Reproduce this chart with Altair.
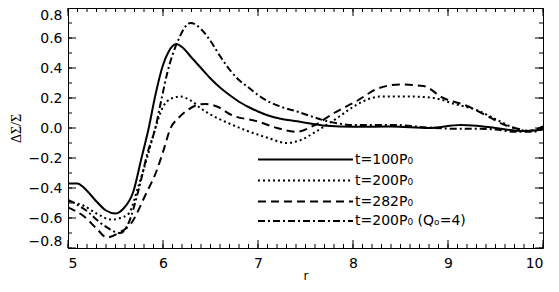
import altair as alt
import pandas as pd

# ---- data ----
r_100 = [5.0, 5.1, 5.17, 5.3, 5.4, 5.5, 5.58, 5.69, 5.77, 5.85, 5.92, 6.0, 6.06, 6.14, 6.2, 6.3, 6.4, 6.5, 6.6, 6.7, 6.8, 6.9, 7.0, 7.1, 7.25, 7.41, 7.72, 8.0, 8.4, 8.8, 9.13, 9.3, 9.5, 9.8, 10.0]
v_100 = [-0.37, -0.37, -0.40, -0.49, -0.55, -0.57, -0.54, -0.42, -0.21, 0.0, 0.22, 0.42, 0.51, 0.56, 0.54, 0.47, 0.40, 0.33, 0.27, 0.22, 0.175, 0.14, 0.11, 0.085, 0.06, 0.045, 0.015, 0.008, 0.01, 0.0, 0.02, 0.015, 0.0, -0.02, -0.01]

r_200 = [5.0, 5.17, 5.3, 5.46, 5.55, 5.64, 5.74, 5.85, 5.92, 6.0, 6.1, 6.18, 6.3, 6.4, 6.5, 6.68, 6.89, 7.1, 7.3, 7.45, 7.62, 7.83, 8.0, 8.15, 8.3, 8.6, 8.85, 9.07, 9.3, 9.53, 9.74, 9.85, 10.0]
v_200 = [-0.49, -0.52, -0.57, -0.61, -0.60, -0.57, -0.39, -0.16, 0.0, 0.14, 0.20, 0.21, 0.18, 0.13, 0.09, 0.035, -0.02, -0.065, -0.10, -0.08, -0.02, 0.065, 0.14, 0.19, 0.21, 0.21, 0.20, 0.16, 0.12, 0.05, -0.01, -0.02, 0.01]

r_282 = [5.0, 5.17, 5.3, 5.41, 5.53, 5.66, 5.82, 5.93, 6.0, 6.08, 6.16, 6.26, 6.37, 6.45, 6.58, 6.71, 6.99, 7.2, 7.4, 7.6, 7.8, 8.04, 8.25, 8.49, 8.74, 8.95, 9.19, 9.4, 9.6, 9.74, 9.85, 10.0]
v_282 = [-0.53, -0.59, -0.67, -0.73, -0.70, -0.64, -0.44, -0.29, -0.16, 0.0, 0.065, 0.12, 0.155, 0.16, 0.14, 0.09, 0.045, 0.0, -0.025, 0.02, 0.10, 0.18, 0.26, 0.29, 0.28, 0.20, 0.15, 0.085, 0.02, -0.005, -0.02, 0.01]

r_q4 = [5.0, 5.17, 5.38, 5.55, 5.64, 5.74, 5.84, 5.92, 5.98, 6.05, 6.15, 6.29, 6.4, 6.5, 6.6, 6.7, 6.8, 6.9, 7.0, 7.1, 7.25, 7.41, 7.55, 7.7, 7.85, 8.0, 8.45, 8.75, 9.07, 9.3, 9.5, 9.7, 9.9, 10.0]
v_q4 = [-0.48, -0.54, -0.65, -0.70, -0.63, -0.42, -0.16, 0.0, 0.18, 0.38, 0.57, 0.70, 0.66, 0.58, 0.48, 0.39, 0.32, 0.27, 0.22, 0.18, 0.14, 0.11, 0.08, 0.05, 0.03, 0.02, 0.02, 0.005, -0.005, -0.005, -0.01, -0.025, -0.025, 0.0]

legend_labels = ["t=100P\u2080", "t=200P\u2080", "t=282P\u2080", "t=200P\u2080 (Q\u2092=4)"]
legend_y = [-0.21, -0.35, -0.49, -0.62]
legend_r = [7.0, 8.0]

x_major = [5, 6, 7, 8, 9, 10]
y_major = [-0.8, -0.6, -0.4, -0.2, 0.0, 0.2, 0.4, 0.6, 0.8]

W, H = 475, 240
FONT = "DejaVu Sans"

x_minor = [round(5 + i * 0.1, 2) for i in range(51)]
y_minor = [round(-0.8 + i * 0.1, 2) for i in range(17)]

xs = alt.Scale(domain=[5, 10], nice=False, zero=False)
ys = alt.Scale(domain=[-0.8, 0.8], nice=False, zero=False)

X_AX = alt.Axis(values=x_major, ticks=False, domain=False, grid=False,
                labelFont=FONT, labelFontSize=14, labelColor="black",
                labelPadding=8, titleFont=FONT, titleFontSize=12,
                titleFontWeight="normal", titleColor="black", titlePadding=0)
Y_AX = alt.Axis(values=y_major, format=".1f", ticks=False, domain=False, grid=False,
                labelFont=FONT, labelFontSize=14, labelColor="black", labelFlush=True,
                labelPadding=6, titleFont="Liberation Serif", titleFontSize=14,
                titleFontWeight="normal", titleColor="black", titlePadding=5)


def X(field="r"):
    return alt.X(f"{field}:Q", scale=xs, axis=X_AX, title="r")


def Y(field="v"):
    return alt.Y(f"{field}:Q", scale=ys, axis=Y_AX, title="ΔΣ/Σ")


dashes = [None, [2, 3], [8, 5], [7, 3, 2, 3]]
series = [(r_100, v_100), (r_200, v_200), (r_282, v_282), (r_q4, v_q4)]

layers = []
for i, (rr, vv) in enumerate(series):
    df = pd.DataFrame({"r": rr, "v": vv})
    kw = dict(color="black", strokeWidth=2, interpolate="monotone", clip=True)
    if dashes[i] is not None:
        kw["strokeDash"] = dashes[i]
    layers.append(alt.Chart(df).mark_line(**kw).encode(x=X(), y=Y()))

    ldf = pd.DataFrame({"r": legend_r, "v": [legend_y[i]] * 2})
    lkw = dict(color="black", strokeWidth=2)
    if dashes[i] is not None:
        lkw["strokeDash"] = dashes[i]
    layers.append(alt.Chart(ldf).mark_line(**lkw).encode(x=X(), y=Y()))

tdf = pd.DataFrame({"r": [legend_r[1]] * 4, "v": legend_y, "t": legend_labels})
layers.append(alt.Chart(tdf).mark_text(align="left", baseline="middle", dx=2, font=FONT,
                                       fontSize=14, color="black").encode(
    x=X(), y=Y(), text="t:N"))


def xticks(vals, length):
    d = pd.DataFrame({"r": vals})
    b = alt.Chart(d).mark_rule(color="black", strokeWidth=1).encode(
        x=X(), y=alt.value(H), y2=alt.value(H - length))
    t = alt.Chart(d).mark_rule(color="black", strokeWidth=1).encode(
        x=X(), y=alt.value(0), y2=alt.value(length))
    return [b, t]


def yticks(vals, length):
    d = pd.DataFrame({"v": vals})
    l = alt.Chart(d).mark_rule(color="black", strokeWidth=1).encode(
        y=Y(), x=alt.value(0), x2=alt.value(length))
    r = alt.Chart(d).mark_rule(color="black", strokeWidth=1).encode(
        y=Y(), x=alt.value(W), x2=alt.value(W - length))
    return [l, r]


layers += xticks(x_major, 8) + xticks(x_minor, 4) + yticks(y_major, 8) + yticks(y_minor, 4)

chart = alt.layer(*layers).properties(
    width=W, height=H,
    autosize=alt.AutoSizeParams(type="none"),
    padding={"left": 60, "top": 0, "right": 8, "bottom": 36},
    background="white",
).configure_view(stroke="black", strokeWidth=1)

chart.save("out.html", embed_options={"renderer": "svg", "actions": False})
